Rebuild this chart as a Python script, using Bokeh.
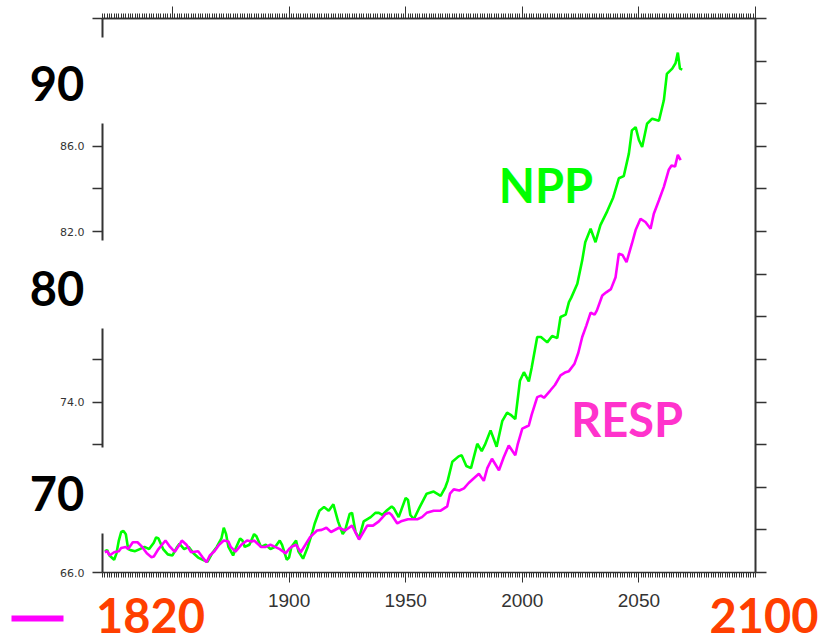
from bokeh.plotting import figure
from bokeh.models import (LinearAxis, FixedTicker, PrintfTickFormatter, Label,
                          BoxAnnotation, Range1d)
from bokeh.embed import file_html
from bokeh.resources import INLINE

# ---------------- data ----------------
npp_years = [1821, 1822, 1823, 1825, 1826, 1827, 1828, 1829, 1830, 1831,
             1832, 1834, 1836, 1838, 1840, 1842, 1843, 1844, 1846, 1848,
             1850, 1852, 1853, 1855, 1857, 1859, 1861, 1863, 1865, 1867,
             1869, 1871, 1872, 1873, 1874, 1876, 1877, 1879, 1880, 1881,
             1883, 1885, 1886, 1888, 1890, 1892, 1894, 1896, 1897, 1899,
             1900, 1901, 1903, 1904, 1906, 1908, 1910, 1911, 1913, 1915,
             1917, 1919, 1921, 1923, 1924, 1926, 1927, 1928.5, 1930, 1932,
             1935, 1937, 1938.5, 1940, 1942, 1944, 1945, 1947, 1950, 1951,
             1952, 1953.5, 1956, 1959, 1962, 1965, 1967, 1968, 1970, 1972.7,
             1974, 1976, 1978, 1980.7, 1982.6, 1984, 1986.4, 1989, 1991.4, 1993.5,
             1995, 1997, 1999, 2000.7, 2002.8, 2004, 2006.4, 2008, 2010.7, 2012.8,
             2015, 2016.4, 2018.6, 2020, 2021, 2023.6, 2025.7, 2027, 2029.3, 2031.4,
             2033.5, 2036.4, 2039, 2041.4, 2043.5, 2045.7, 2047, 2048.6, 2050, 2051.4,
             2053.5, 2055.7, 2058.6, 2060.7, 2062, 2064.3, 2065.7, 2066.7, 2067.6, 2068.6]
npp_values = [67.0, 67.05, 66.8, 66.6, 66.9, 67.5, 67.9, 67.95, 67.8, 67.1,
              67.05, 67.0, 67.1, 67.2, 67.1, 67.4, 67.65, 67.6, 67.1, 66.85,
              66.8, 67.2, 67.35, 67.1, 67.2, 66.9, 66.7, 66.6, 66.5, 66.9,
              67.2, 67.6, 68.1, 67.8, 67.2, 66.8, 67.1, 67.6, 67.5, 67.2,
              67.3, 67.8, 67.7, 67.2, 67.3, 67.1, 67.2, 67.5, 67.3, 66.6,
              66.7, 67.2, 67.5, 67.0, 66.65, 67.2, 67.9, 68.3, 68.9, 69.07,
              68.9, 69.2, 68.4, 67.8, 67.97, 68.75, 68.8, 67.9, 67.6, 68.4,
              68.6, 68.8, 68.8, 68.7, 68.92, 69.1, 69.0, 68.6, 69.5, 69.4,
              68.7, 68.5, 69.07, 69.7, 69.8, 69.6, 70.0, 70.3, 71.2, 71.45,
              71.5, 71.0, 70.9, 72.04, 71.7, 72.0, 72.67, 71.9, 73.1, 73.5,
              73.4, 73.2, 75.0, 75.4, 74.97, 75.6, 77.05, 77.05, 76.8, 77.1,
              77.0, 77.99, 78.1, 78.69, 78.9, 79.55, 80.65, 81.5, 82.13, 81.5,
              82.3, 82.95, 83.6, 84.5, 84.6, 85.66, 86.75, 86.9, 86.3, 85.97,
              87.06, 87.3, 87.2, 88.16, 89.4, 89.65, 89.9, 90.4, 89.65, 89.6]

resp_years = [1821, 1822, 1823, 1825, 1827, 1828, 1830, 1831, 1833, 1835,
              1837, 1839, 1841, 1842, 1844, 1847, 1849, 1851, 1853, 1854,
              1856, 1858, 1861, 1863, 1864.6, 1866, 1868, 1870, 1872, 1874,
              1875, 1877, 1879.5, 1882, 1884, 1885, 1887, 1888, 1890, 1892,
              1894, 1896, 1898.6, 1900, 1901, 1903, 1905, 1907, 1909, 1912,
              1914, 1916, 1918, 1921.4, 1924, 1927, 1930, 1933.5, 1936, 1938.5,
              1941.4, 1943, 1944, 1946.4, 1948, 1951, 1955, 1957, 1959, 1962,
              1965, 1967.8, 1969, 1970.6, 1973, 1975, 1977, 1979, 1981.4, 1983.5,
              1985, 1987, 1990, 1992, 1994.2, 1997, 1998, 2000, 2002.8, 2004,
              2006.4, 2008, 2009.3, 2012, 2014, 2016.4, 2018.6, 2020, 2022.4, 2024,
              2025.7, 2027.5, 2029.3, 2031, 2032, 2034.3, 2036, 2038, 2040, 2041.4,
              2043, 2044.7, 2047, 2048.6, 2050.7, 2052.8, 2055, 2056.4, 2058.6, 2060.7,
              2062.8, 2064, 2065.5, 2066.7, 2067.9]
resp_values = [66.95, 67.0, 66.8, 66.95, 67.0, 67.15, 67.2, 67.1, 67.42, 67.42,
               67.2, 66.9, 66.72, 66.75, 67.1, 67.5, 67.2, 66.97, 67.3, 67.5,
               67.3, 66.95, 67.0, 66.7, 66.48, 66.8, 67.0, 67.3, 67.5, 67.45,
               67.2, 66.98, 67.3, 67.5, 67.45, 67.5, 67.3, 67.2, 67.2, 67.3,
               67.2, 67.1, 66.9, 67.1, 67.2, 67.3, 66.95, 67.3, 67.66, 67.97,
               68.0, 68.1, 67.9, 68.1, 67.97, 68.2, 67.55, 68.2, 68.2, 68.4,
               68.75, 68.8, 68.7, 68.3, 68.4, 68.5, 68.5, 68.6, 68.8, 68.9,
               68.9, 69.1, 69.7, 69.9, 69.85, 69.95, 70.2, 70.4, 70.63, 70.3,
               70.9, 71.34, 70.8, 71.4, 71.96, 71.5, 72.0, 72.75, 72.9, 73.4,
               74.23, 74.3, 74.2, 74.54, 74.8, 75.25, 75.4, 75.45, 75.8, 76.3,
               77.05, 77.6, 78.2, 78.1, 78.3, 79.0, 79.15, 79.3, 79.86, 80.96,
               80.9, 80.57, 81.43, 82.07, 82.6, 82.45, 82.13, 82.84, 83.47, 84.1,
               84.9, 85.1, 85.05, 85.6, 85.35]

x_major_bottom = [1900, 1950, 2000, 2050]
x_major_top = [1850, 1900, 1950, 2000, 2050, 2100]
x_minor = list(range(1820, 2101))
y_labelled = [66, 74, 82, 86]
y_unlabelled = [68, 70, 72, 76, 78, 80, 84, 88, 90, 92]
y_all = [66, 68, 70, 72, 74, 76, 78, 80, 82, 84, 86, 88, 90, 92]
big_y_labels = ["90", "80", "70"]
range_labels = ["1820", "2100"]
series_labels = ["NPP", "RESP"]

# ---------------- layout constants ----------------
X0, X1, Y0, Y1 = 1820, 2100, 66, 92
FL, FR, FT, FB = 102, 755, 18, 572  # plot box edges in px
W, H = 819, 644
BIG_PX = 47
BASE_SHIFT = 0.4 * BIG_PX  # observed baseline offset of Label text


def xd(px):
    return X0 + (px - FL) * (X1 - X0) / (FR - FL)


def yd(py):
    return Y0 + (FB - py) * (Y1 - Y0) / (FB - FT)


AX = "#333333"

p = figure(width=W, height=H,
           x_range=Range1d(xd(0), xd(W)), y_range=Range1d(yd(H), yd(0)),
           x_axis_location=None, y_axis_location=None,
           output_backend="svg", toolbar_location=None,
           min_border=0, min_border_left=0, min_border_right=0,
           min_border_top=0, min_border_bottom=0)
p.xgrid.visible = False
p.ygrid.visible = False
p.outline_line_color = None
p.background_fill_color = "white"
p.border_fill_color = "white"

common = dict(axis_line_color=AX, major_tick_line_color=AX, minor_tick_line_color=AX,
              major_tick_in=0, minor_tick_in=0)

# bottom axis (labelled)
xb = LinearAxis(fixed_location=Y0, bounds=(X0, X1),
                ticker=FixedTicker(ticks=x_major_bottom, minor_ticks=x_minor),
                major_tick_out=10, minor_tick_out=5, axis_line_width=1.5,
                major_label_text_font="Liberation Sans", major_label_text_font_size="19px",
                major_label_text_color=AX, major_label_standoff=11, **common)
p.add_layout(xb, "below")

# top axis: short yearly ticks + long half-century ticks
xt1 = LinearAxis(fixed_location=Y1, bounds=(X0, X1),
                 ticker=FixedTicker(ticks=[], minor_ticks=x_minor),
                 minor_tick_out=5, axis_line_width=1.5, **common)
xt2 = LinearAxis(fixed_location=Y1, bounds=(X0, X1),
                 ticker=FixedTicker(ticks=[], minor_ticks=x_major_top),
                 minor_tick_out=12, axis_line_width=1.5, **common)
p.add_layout(xt1, "above")
p.add_layout(xt2, "above")

# left axis
yl = LinearAxis(fixed_location=X0, bounds=(Y0, Y1),
                ticker=FixedTicker(ticks=y_labelled, minor_ticks=y_unlabelled),
                formatter=PrintfTickFormatter(format="%.1f"),
                major_tick_out=10, minor_tick_out=10, axis_line_width=2,
                major_tick_line_width=1.5, minor_tick_line_width=1.5,
                major_label_text_font="DejaVu Sans", major_label_text_font_size="11px",
                major_label_text_color=AX, major_label_standoff=8, **common)
p.add_layout(yl, "left")

# right axis (ticks only)
yr = LinearAxis(fixed_location=X1, bounds=(Y0, Y1),
                ticker=FixedTicker(ticks=[], minor_ticks=y_all),
                minor_tick_out=11, axis_line_width=2,
                minor_tick_line_width=1.5, **common)
p.add_layout(yr, "right")

# series
p.line(npp_years, npp_values, line_color="#00FF00", line_width=2.6)
p.line(resp_years, resp_values, line_color="#FF00FF", line_width=2.6)

# white patches hiding parts of the left axis (behind the big labels)
for top_px, bot_px in [(37, 123), (240, 328), (447, 533)]:
    p.add_layout(BoxAnnotation(left=xd(0), right=xd(104), top=yd(top_px), bottom=yd(bot_px),
                               fill_color="white", fill_alpha=1.0, line_color=None))

# magenta legend dash
p.add_layout(BoxAnnotation(left=xd(11), right=xd(63), top=yd(615), bottom=yd(621),
                           fill_color="#FF00FF", fill_alpha=1.0, line_color=None))

BIG = dict(text_font="Lato", text_font_style="bold", text_font_size=f"{BIG_PX}px",
           text_align="center", text_baseline="alphabetic")

for txt, bottom_px in zip(big_y_labels, [102, 307, 512]):
    p.add_layout(Label(x=xd(56.5), y=yd(bottom_px - BASE_SHIFT), text=txt,
                       text_color="black", **BIG))

for txt, cx in zip(range_labels, [150, 763.5]):
    p.add_layout(Label(x=xd(cx), y=yd(634 - BASE_SHIFT), text=txt,
                       text_color="#FF3F00", **BIG))

for txt, cx, bottom_px, col in zip(series_labels, [545.5, 626.5], [203, 437],
                                   ["#00FF00", "#FF33CC"]):
    p.add_layout(Label(x=xd(cx), y=yd(bottom_px - BASE_SHIFT), text=txt,
                       text_color=col, **BIG))

open("out.html", "w").write(file_html(p, INLINE))
